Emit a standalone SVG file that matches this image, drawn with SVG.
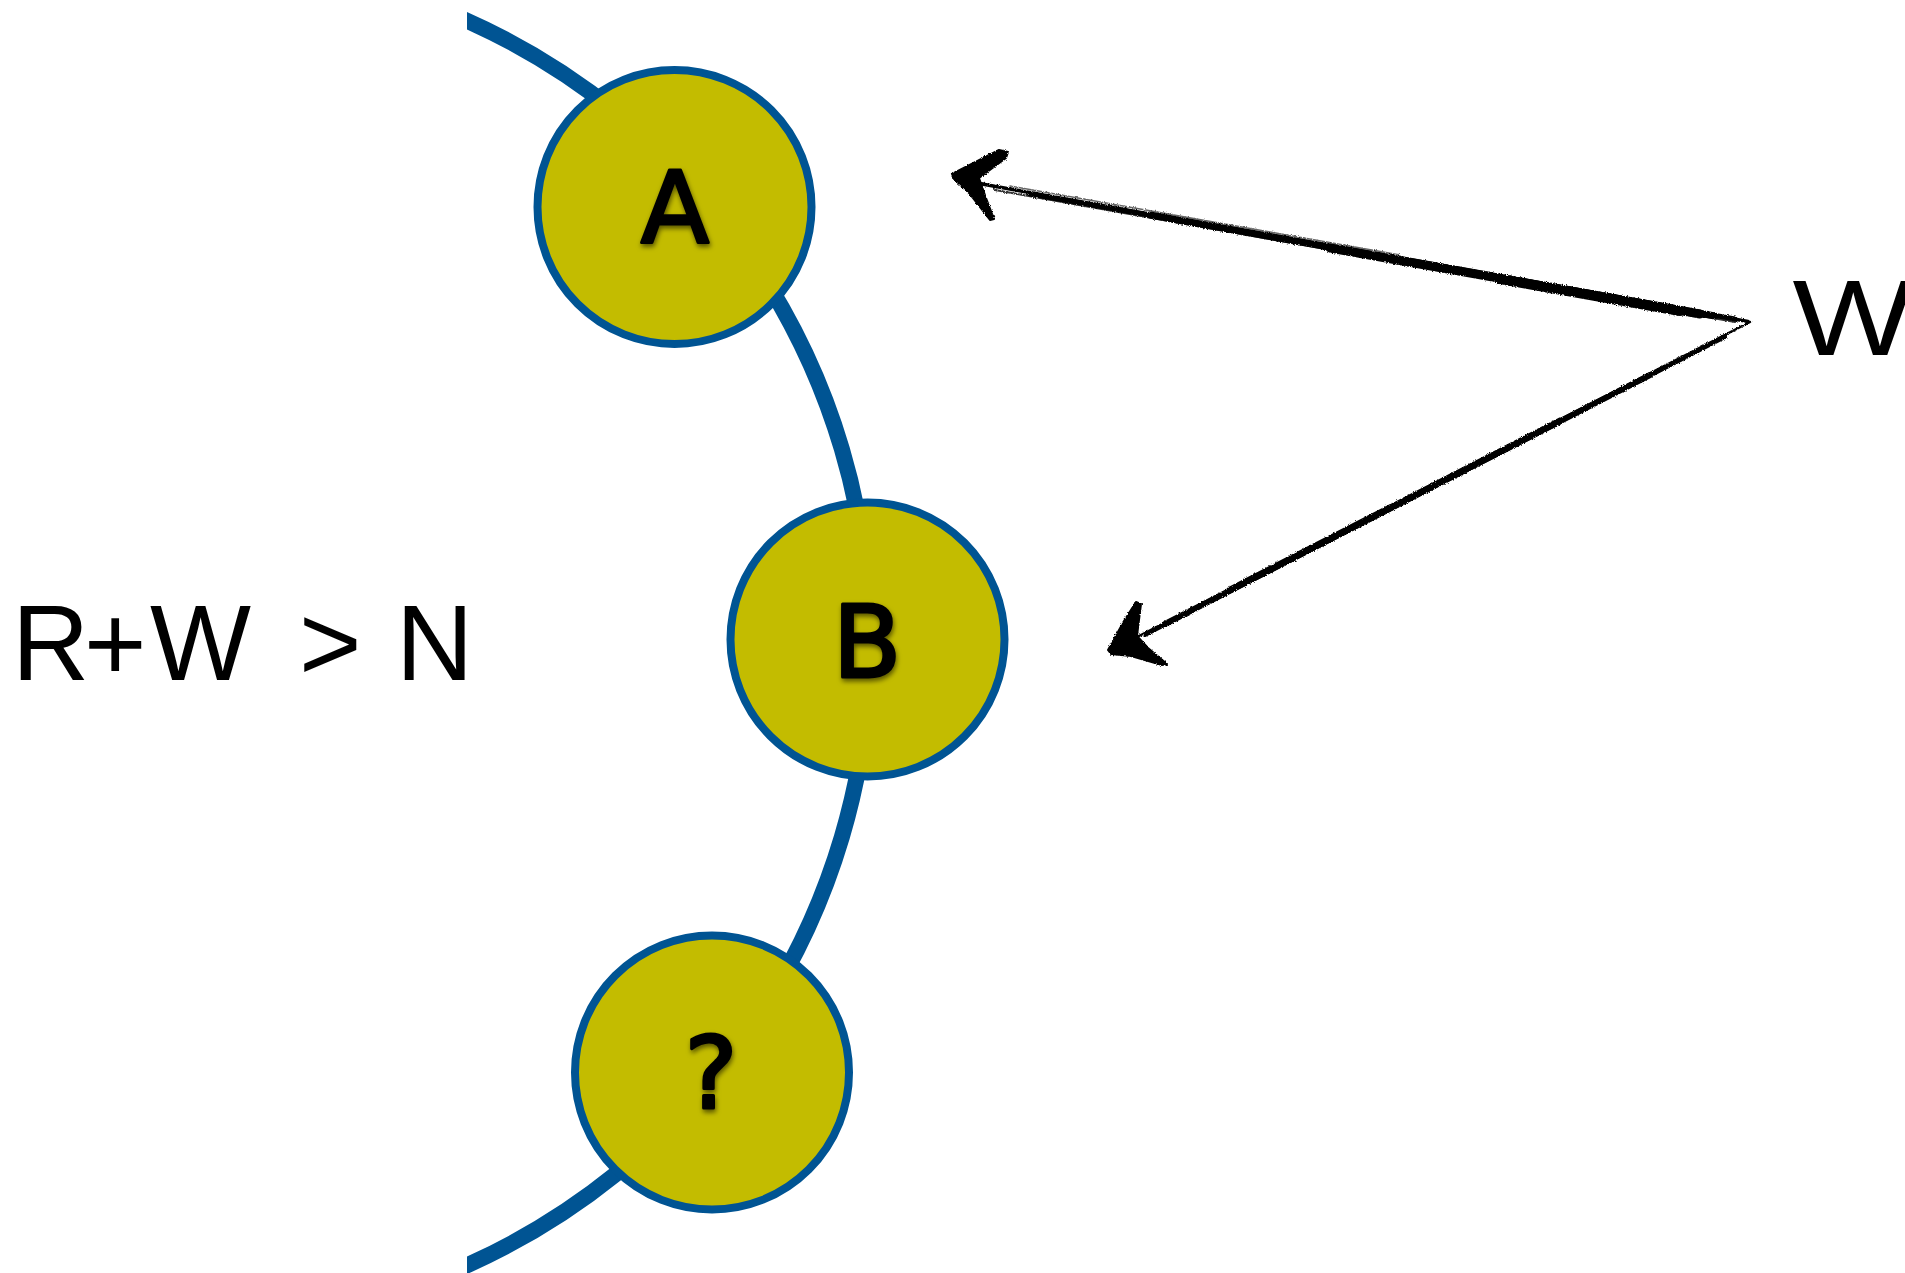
<svg xmlns="http://www.w3.org/2000/svg" width="1905" height="1273" viewBox="0 0 1905 1273">
  <style>
    .node-disc { fill: #C3BC00; stroke: #005493; stroke-width: 8; }
    .hand { font-family: "DejaVu Sans", "Liberation Sans", sans-serif; font-size: 100px; fill: #000; stroke: #000; stroke-width: 3; stroke-linejoin: round; text-anchor: middle; }
    .label { font-family: "Liberation Sans", "DejaVu Sans", sans-serif; font-size: 107px; fill: #000; }
    .ring { fill: none; stroke: #005493; stroke-width: 16; }
    .ink { stroke: #000; fill: none; stroke-linecap: round; }
    .ink-fill { fill: #000; stroke: #000; stroke-width: 2; stroke-linejoin: round; }
  </style>
  <defs>
    <clipPath id="ringClip">
      <rect x="467" y="0" width="1438" height="1273"/>
    </clipPath>
    <filter id="letterShadow" x="-30%" y="-30%" width="160%" height="160%">
      <feDropShadow dx="1" dy="3" stdDeviation="2.5" flood-color="#000" flood-opacity="0.55"/>
    </filter>
    <filter id="rough" x="-5%" y="-5%" width="110%" height="110%">
      <feTurbulence type="fractalNoise" baseFrequency="0.9" numOctaves="2" seed="3" result="noise"/>
      <feDisplacementMap in="SourceGraphic" in2="noise" scale="3" xChannelSelector="R" yChannelSelector="G"/>
    </filter>
  </defs>

  <rect width="1905" height="1273" fill="#fff"/>

  <!-- ring segment the nodes sit on -->
  <g id="connectors">
    <path class="ring" clip-path="url(#ringClip)" d="M 448 12.5 A 682 682 0 0 1 448 1273.5"/>

    <!-- sketched arrows from W -->
    <g id="arrow-to-A" filter="url(#rough)">
      <line class="ink" x1="982" y1="184" x2="1748" y2="321.5" stroke-width="3.5"/>
      <line class="ink" x1="995" y1="190" x2="1735" y2="322" stroke-width="2" opacity="0.8"/>
      <line class="ink" x1="1030" y1="194" x2="1735" y2="319" stroke-width="5"/>
      <line class="ink" x1="1150" y1="215" x2="1715" y2="316" stroke-width="7"/>
      <line class="ink" x1="1330" y1="248" x2="1700" y2="314" stroke-width="9"/>
      <line class="ink" x1="1500" y1="279" x2="1680" y2="311" stroke-width="10"/>
      <line class="ink" x1="1010" y1="186" x2="1400" y2="255" stroke-width="1.5" opacity="0.6"/>
      <polygon class="ink-fill" points="952,174 999,150 1008,152 1006,158 979,178 986,198 994,219 990,220 969,193 954,179"/>
    </g>
    <g id="arrow-to-B" filter="url(#rough)">
      <line class="ink" x1="1750" y1="322" x2="1137" y2="637" stroke-width="2.5"/>
      <line class="ink" x1="1725" y1="337" x2="1145" y2="635" stroke-width="4"/>
      <line class="ink" x1="1650" y1="375" x2="1165" y2="624" stroke-width="6"/>
      <line class="ink" x1="1560" y1="421" x2="1230" y2="590" stroke-width="7"/>
      <line class="ink" x1="1700" y1="351" x2="1300" y2="556" stroke-width="1.5" opacity="0.6"/>
      <polygon class="ink-fill" points="1136,602 1141,604 1137,636 1148,648 1167,664 1162,665 1131,656 1111,654 1108,650 1124,621"/>
    </g>
  </g>

  <g id="node-A">
    <circle class="node-disc" cx="674.5" cy="207" r="137"/>
    <text class="hand" x="675" y="243" filter="url(#letterShadow)">A</text>
  </g>

  <g id="node-B">
    <circle class="node-disc" cx="867.5" cy="639.5" r="137"/>
    <text class="hand" x="867" y="677" filter="url(#letterShadow)">B</text>
  </g>

  <g id="node-unknown">
    <circle class="node-disc" cx="712" cy="1072.5" r="137"/>
    <text class="hand" x="711" y="1108" filter="url(#letterShadow)">?</text>
  </g>

  <g id="quorum-label">
    <text class="label" x="12 84 150 254 299 352 396" y="680">R+W &gt; N</text>
  </g>

  <g id="writer-label">
    <text class="label" transform="translate(1795,355) scale(1.2,1)" x="-2" y="0">W</text>
  </g>
</svg>
